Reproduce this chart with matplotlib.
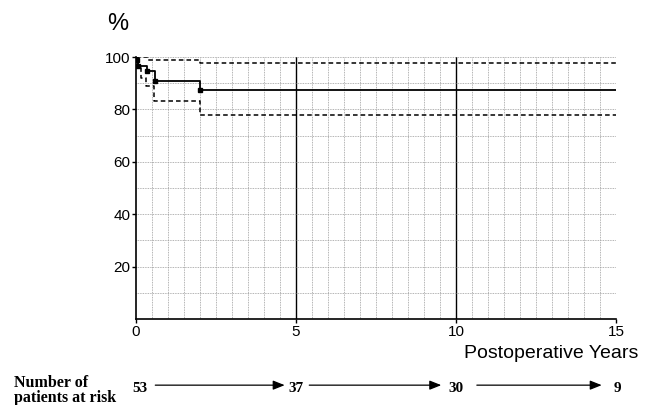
import numpy as np
import matplotlib
matplotlib.use("Agg")
import matplotlib.pyplot as plt

# Kaplan-Meier survival curve (percent) and 95% CI
surv_t = [0, 0.03, 0.07, 0.33, 0.59, 2.0, 15]
surv_v = [100, 98.9, 96.5, 94.6, 90.8, 87.6, 87.6]
upper_t = [0, 0.38, 2.0, 15]
upper_v = [100, 98.8, 97.8, 97.8]
lower_t = [0, 0.05, 0.15, 0.3, 0.55, 2.0, 15]
lower_v = [100, 96, 92, 88.9, 83.4, 78.0, 78.0]

yticks = [20, 40, 60, 80, 100]
xticks = [0, 5, 10, 15]
at_risk = ["53", "37", "30", "9"]

plt.rcParams['font.family'] = ['Liberation Sans', 'DejaVu Sans']

fig = plt.figure(figsize=(6.47, 4.05), dpi=100)
ax = fig.add_axes([0.2102, 0.2123, 0.7418, 0.6467])
ax.set_xlim(0, 15)
ax.set_ylim(0, 100)

# grid
for x in np.arange(0.5, 15.01, 0.5):
    if abs(x - 5) < 1e-6 or abs(x - 10) < 1e-6:
        ax.axvline(x, color='black', lw=1.0, zorder=1)
    else:
        ax.axvline(x, color='#9a9a9a', lw=0.6, ls=(0, (1, 1)), zorder=1)
for y in range(10, 101, 10):
    ax.axhline(y, color='#9a9a9a', lw=0.6, ls=(0, (1, 1)), zorder=1)

ax.step(upper_t, upper_v, where='post', color='black', lw=1.1, ls=(0, (3, 2)), zorder=3)
ax.step(lower_t, lower_v, where='post', color='black', lw=1.1, ls=(0, (3, 2)), zorder=3)
ax.step(surv_t, surv_v, where='post', color='black', lw=1.3, zorder=4)
ax.plot(surv_t[1:-1], surv_v[1:-1], 's', color='black', ms=3, zorder=5)

for s in ['top', 'right']:
    ax.spines[s].set_visible(False)
ax.spines['left'].set_linewidth(1.2)
ax.spines['bottom'].set_linewidth(1.2)

ax.set_yticks(yticks)
ax.set_xticks(xticks)
ax.tick_params(length=3, width=1, labelsize=11, pad=1)

fig.text(0.165, 0.94, '%', fontsize=17, ha='left', va='center')
fig.text(0.987, 0.126, 'Postoperative Years', fontsize=14, ha='right', va='center')

# patients at risk row
serif = ['Liberation Serif', 'DejaVu Serif']
fig.text(0.022, 0.0444, 'Number of', family=serif, fontweight='bold',
         fontsize=11.5, ha='left', va='baseline')
fig.text(0.022, 0.0074, 'patients at risk', family=serif, fontweight='bold',
         fontsize=11.5, ha='left', va='baseline')
num_x = [0.2164, 0.4575, 0.7048, 0.9536]
for xx, lab in zip(num_x, at_risk):
    fig.text(xx, 0.032, lab, family=serif, fontweight='bold',
             fontsize=11, ha='center', va='baseline')
arrows = [(0.240, 0.440), (0.478, 0.682), (0.737, 0.930)]
for x0, x1 in arrows:
    fig.add_artist(matplotlib.patches.FancyArrowPatch(
        (x0, 0.049), (x1, 0.049), transform=fig.transFigure,
        arrowstyle='-|>,head_length=7,head_width=2.8', color='black', lw=0.9,
        shrinkA=0, shrinkB=0))

fig.savefig('out.png', dpi=100)
